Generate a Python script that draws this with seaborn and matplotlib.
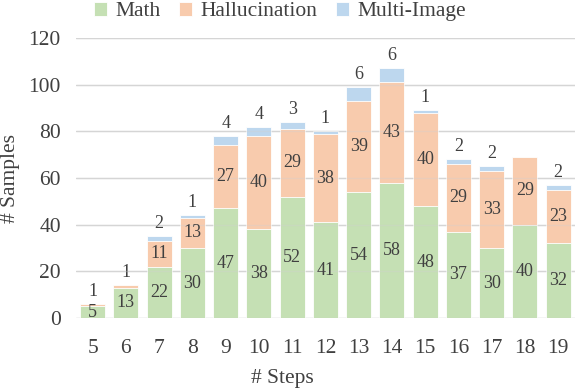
import matplotlib
matplotlib.use('Agg')
import matplotlib.pyplot as plt
import seaborn as sns
import pandas as pd
import numpy as np

steps = [5, 6, 7, 8, 9, 10, 11, 12, 13, 14, 15, 16, 17, 18, 19]
math = [5, 13, 22, 30, 47, 38, 52, 41, 54, 58, 48, 37, 30, 40, 32]
halluc = [1, 1, 11, 13, 27, 40, 29, 38, 39, 43, 40, 29, 33, 29, 23]
multi = [0, 0, 2, 1, 4, 4, 3, 1, 6, 6, 1, 2, 2, 0, 2]
series = ['Math', 'Hallucination', 'Multi-Image']
colors = ['#C5E0B4', '#F8CBAD', '#BDD7EE']
txt = '#404040'

sns.set_style('white')
plt.rcParams['font.family'] = ['Liberation Serif', 'DejaVu Serif']

df = pd.DataFrame({'step': [str(s) for s in steps], 'Math': math,
                   'Hallucination': halluc, 'Multi-Image': multi})
df['c1'] = df['Math']
df['c2'] = df['c1'] + df['Hallucination']
df['c3'] = df['c2'] + df['Multi-Image']

fig = plt.figure(figsize=(5.76, 3.88), dpi=100)
ax = fig.add_axes([0.132, 0.180, 0.866, 0.722])

# draw the tallest stack first, then cover it
for col, name, c in zip(['c3', 'c2', 'c1'], series[::-1], colors[::-1]):
    sns.barplot(data=df, x='step', y=col, color=c, saturation=1, width=0.75,
                ax=ax, label=name, edgecolor='white', linewidth=0.6)

ax.set_ylim(0, 120)
ax.set_xlim(-0.5, len(steps) - 0.5)
ax.set_yticks(np.arange(0, 121, 20))
# gridlines faintly show through the bars in the original
for yv in np.arange(0, 121, 20):
    ax.axhline(yv, color='#D9D9D9', linewidth=1, zorder=0)
    ax.axhline(yv, color='#D0D0D0', linewidth=1, alpha=0.35, zorder=5)
for s in ax.spines.values():
    s.set_visible(False)
ax.tick_params(axis='both', length=0, labelsize=15.5, colors=txt)
ax.tick_params(axis='y', pad=11)
ax.tick_params(axis='x', pad=15)

ax.set_ylabel('# Samples', fontsize=15.5, color=txt, labelpad=6)
ax.set_xlabel('# Steps', fontsize=15.5, color=txt)
ax.xaxis.set_label_coords(0.414, -0.18)

# value labels
fs = 13
for i in range(len(steps)):
    m, h, mi = math[i], halluc[i], multi[i]
    ax.text(i, m / 2, str(m), ha='center', va='center', fontsize=fs, color=txt, zorder=6)
    if mi == 0 and h < 3:
        ax.annotate(str(h), (i, m + h), xytext=(0, 3), textcoords='offset points',
                    ha='center', va='bottom', fontsize=fs, color=txt)
    else:
        ax.text(i, m + h / 2, str(h), ha='center', va='center', fontsize=fs, color=txt, zorder=6)
    if mi > 0:
        ax.annotate(str(mi), (i, m + h + mi), xytext=(0, 3), textcoords='offset points',
                    ha='center', va='bottom', fontsize=fs, color=txt)

handles, labels = ax.get_legend_handles_labels()
order = [labels.index(n) for n in series]
ax.legend([handles[k] for k in order], series, loc='upper center',
          bbox_to_anchor=(0.486, 1.045), bbox_transform=fig.transFigure,
          ncol=3, frameon=False, fontsize=15.5, handlelength=0.6, handleheight=0.6,
          handletextpad=0.4, columnspacing=0.85, labelcolor=txt)

fig.savefig('out.png', dpi=100)
